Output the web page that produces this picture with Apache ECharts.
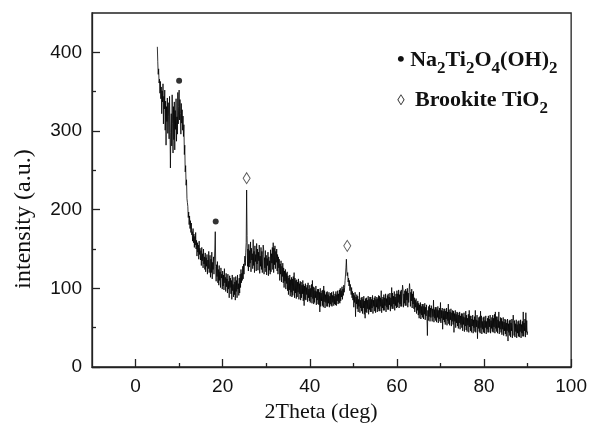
<!DOCTYPE html>
<html><head><meta charset="utf-8">
<script src="https://cdn.jsdelivr.net/npm/echarts@6/dist/echarts.min.js"></script>
<style>html,body{margin:0;padding:0;background:#fff}#c{width:590px;height:424px}</style>
</head><body><div id="c"></div>
<script>
// XRD pattern: intensity sampled every 0.1 deg; each array covers 10 deg starting at its segStart (one row = 1 deg)
const stepDeg = 0.1;
const segStarts = [5, 15, 25, 35, 45, 55, 65, 75, 85];
const int05 = [
 407, 388, 372, 379, 361, 366, 348, 363, 341, 356,
 322, 351, 337, 360, 309, 344, 328, 352, 301, 338,
 282, 331, 312, 342, 297, 336, 318, 290, 344, 305,
 253, 298, 322, 281, 346, 310, 272, 331, 289, 337,
 276, 326, 302, 341, 287, 318, 296, 349, 309, 331,
 352, 314, 340, 322, 296, 335, 310, 327, 301, 319,
 293, 308, 270, 282, 248, 256, 231, 238, 214, 209,
 204, 190, 197, 181, 192, 176, 186, 171, 183, 168,
 172, 160, 176, 158, 169, 152, 166, 155, 171, 150,
 161, 141, 158, 146, 155, 137, 160, 143, 151, 136];
const int15 = [
 148, 129, 152, 135, 144, 126, 150, 131, 140, 124,
 145, 121, 139, 128, 143, 118, 136, 125, 147, 120,
 131, 142, 114, 137, 120, 146, 112, 133, 124, 140,
 118, 136, 150, 172, 128, 109, 130, 115, 134, 107,
 124, 104, 129, 110, 121, 101, 126, 113, 118, 99,
 122, 103, 117, 98, 125, 107, 114, 96, 119, 102,
 112, 94, 118, 99, 109, 88, 116, 101, 113, 93,
 110, 86, 117, 97, 105, 89, 114, 92, 108, 85,
 115, 96, 110, 88, 117, 99, 106, 91, 113, 94,
 118, 101, 124, 107, 119, 110, 128, 112, 131, 118];
const int25 = [
 133, 141, 129, 146, 158, 225, 167, 128, 150, 122,
 156, 127, 148, 132, 159, 121, 151, 136, 144, 125,
 162, 129, 147, 120, 154, 134, 143, 122, 157, 131,
 150, 123, 146, 135, 155, 119, 141, 128, 152, 124,
 147, 120, 143, 155, 150, 118, 139, 126, 148, 121,
 142, 117, 138, 129, 146, 116, 140, 123, 135, 118,
 149, 121, 144, 132, 152, 124, 158, 120, 151, 130,
 154, 125, 147, 133, 150, 122, 143, 118, 140, 126,
 137, 110, 131, 118, 135, 108, 128, 115, 132, 107,
 126, 101, 122, 109, 124, 99, 119, 106, 121, 97];
const int35 = [
 116, 92, 113, 98, 117, 90, 111, 95, 114, 89,
 112, 91, 115, 97, 120, 88, 113, 94, 110, 87,
 111, 89, 108, 95, 112, 86, 106, 93, 109, 85,
 108, 88, 104, 93, 110, 84, 105, 78, 103, 86,
 106, 85, 101, 92, 104, 83, 107, 88, 99, 84,
 104, 82, 100, 89, 105, 81, 110, 87, 102, 80,
 101, 82, 97, 88, 103, 79, 96, 85, 99, 80,
 99, 79, 95, 70, 100, 77, 94, 84, 97, 78,
 98, 76, 103, 83, 97, 75, 92, 82, 95, 77,
 96, 77, 92, 81, 95, 76, 90, 80, 94, 78];
const int45 = [
 95, 77, 91, 82, 96, 78, 90, 80, 93, 79,
 96, 78, 92, 84, 97, 80, 93, 82, 98, 81,
 100, 84, 97, 89, 102, 86, 99, 91, 104, 95,
 101, 110, 117, 126, 137, 122, 116, 120, 108, 113,
 103, 110, 97, 105, 99, 92, 101, 88, 96, 85,
 94, 76, 91, 82, 95, 64, 89, 80, 92, 74,
 90, 70, 86, 77, 95, 69, 85, 75, 88, 71,
 89, 68, 86, 75, 90, 67, 84, 62, 87, 70,
 88, 69, 85, 74, 90, 67, 86, 73, 89, 70,
 89, 70, 86, 75, 91, 68, 85, 77, 88, 71];
const int55 = [
 90, 69, 86, 76, 89, 70, 87, 74, 91, 71,
 90, 71, 88, 77, 97, 69, 86, 75, 89, 72,
 92, 72, 88, 78, 93, 70, 87, 76, 91, 73,
 93, 73, 89, 79, 94, 71, 88, 77, 101, 74,
 94, 74, 90, 80, 96, 72, 89, 78, 93, 75,
 97, 76, 93, 82, 98, 75, 92, 80, 96, 77,
 98, 77, 94, 104, 99, 76, 93, 81, 97, 78,
 99, 78, 96, 85, 100, 76, 94, 82, 98, 106,
 98, 77, 95, 84, 99, 75, 93, 80, 96, 74,
 88, 70, 85, 76, 87, 68, 82, 72, 84, 66];
const int65 = [
 81, 62, 79, 68, 82, 61, 77, 66, 80, 63,
 80, 61, 77, 67, 81, 60, 76, 65, 79, 62,
 40, 72, 59, 77, 64, 79, 58, 75, 63, 78,
 77, 58, 74, 64, 85, 57, 73, 62, 76, 59,
 76, 57, 73, 63, 77, 56, 72, 61, 75, 58,
 82, 56, 72, 62, 75, 48, 71, 60, 74, 57,
 74, 54, 71, 61, 75, 53, 70, 59, 80, 55,
 73, 53, 70, 60, 74, 52, 69, 58, 72, 54,
 71, 44, 68, 58, 72, 50, 67, 56, 70, 52,
 69, 49, 66, 56, 70, 48, 65, 54, 68, 50];
const int75 = [
 68, 46, 64, 54, 69, 45, 63, 52, 71, 47,
 66, 45, 62, 53, 67, 44, 72, 51, 65, 46,
 65, 44, 61, 52, 66, 43, 60, 50, 64, 45,
 72, 44, 60, 51, 66, 36, 59, 49, 63, 45,
 64, 43, 71, 50, 65, 42, 58, 48, 63, 44,
 64, 43, 59, 50, 65, 42, 58, 48, 62, 44,
 65, 44, 61, 51, 66, 43, 59, 49, 63, 45,
 66, 44, 62, 51, 67, 43, 70, 49, 64, 45,
 64, 43, 60, 50, 70, 42, 58, 48, 63, 44,
 62, 41, 58, 48, 63, 40, 57, 46, 61, 42];
const int85 = [
 60, 39, 56, 46, 61, 33, 55, 44, 59, 40,
 60, 38, 56, 46, 61, 37, 55, 66, 59, 40,
 59, 38, 55, 45, 60, 37, 54, 43, 58, 39,
 59, 38, 55, 45, 60, 37, 54, 43, 58, 39,
 70, 39, 56, 46, 61, 38, 69, 44, 59, 41,
 45];
const segments = [int05, int15, int25, int35, int45, int55, int65, int75, int85];

// peak markers
const naTitanatePeaks = [[10.0, 364], [18.4, 185]];
const brookitePeaks = [[25.5, 240], [48.6, 154]];

// ticks
const xMajorTicks = [0, 20, 40, 60, 80, 100];
const xMinorTicks = [10, 30, 50, 70, 90];
const yMajorTicks = [0, 100, 200, 300, 400];
const yMinorTicks = [50, 150, 250, 350];

const pattern = [];
segments.forEach((seg, s) => {
  seg.forEach((v, j) => pattern.push([+(segStarts[s] + j * stepDeg).toFixed(1), v]));
});

const axisColor = '#222';
const tickFont = {color: '#111', fontFamily: 'Liberation Sans', fontSize: 19};
function mkAxis(extra) {
  const ax = Object.assign({type: 'value', splitLine: {show: false}}, extra);
  ax.axisLine = Object.assign({show: true, onZero: false, lineStyle: {color: axisColor, width: 1.3}}, extra.axisLine || {});
  return ax;
}

const chart = echarts.init(document.getElementById('c'), null, {renderer: 'canvas'});
chart.setOption({
  animation: false,
  backgroundColor: '#fff',
  grid: {left: 92, right: 17, top: 13, bottom: 57, show: true, borderColor: axisColor, borderWidth: 1.3, backgroundColor: 'transparent'},
  xAxis: [
    mkAxis({min: -10, max: 100, position: 'bottom',
      axisTick: {inside: true, length: 8, customValues: xMajorTicks, lineStyle: {color: axisColor, width: 1.3}},
      axisLabel: Object.assign({customValues: xMajorTicks, margin: 10}, tickFont)}),
    mkAxis({min: -10, max: 100, position: 'bottom', axisLine: {show: false},
      axisTick: {inside: true, length: 4, customValues: xMinorTicks, lineStyle: {color: axisColor, width: 1.3}},
      axisLabel: {show: false}})
  ],
  yAxis: [
    mkAxis({min: 0, max: 450, position: 'left',
      axisTick: {inside: true, length: 8, customValues: yMajorTicks, lineStyle: {color: axisColor, width: 1.3}},
      axisLabel: Object.assign({customValues: yMajorTicks, margin: 10}, tickFont)}),
    mkAxis({min: 0, max: 450, position: 'left', axisLine: {show: false},
      axisTick: {inside: true, length: 4, customValues: yMinorTicks, lineStyle: {color: axisColor, width: 1.3}},
      axisLabel: {show: false}})
  ],
  series: [
    {type: 'line', data: pattern, symbol: 'none', showSymbol: false, sampling: null,
      lineStyle: {color: '#000', width: 0.8}, z: 2},
    {type: 'scatter', data: naTitanatePeaks, symbol: 'circle', symbolSize: 6,
      itemStyle: {color: '#000'}, z: 3},
    {type: 'scatter', data: brookitePeaks, symbol: 'diamond', symbolSize: [7, 11],
      itemStyle: {color: '#fff', borderColor: '#333', borderWidth: 1}, z: 3}
  ],
  graphic: [
    {type: 'text', x: 321, y: 412, style: {text: '2Theta (deg)', fill: '#111', font: '22px "Liberation Serif"', align: 'center', verticalAlign: 'middle'}},
    {type: 'text', x: 24, y: 219, rotation: Math.PI / 2, style: {text: 'intensity (a.u.)', fill: '#111', font: '24px "Liberation Serif"', align: 'center', verticalAlign: 'middle'}},
    {type: 'text', x: 397, y: 60, style: {
      text: '{b|• Na}{s|2}{b|Ti}{s|2}{b|O}{s|4}{b|(OH)}{s|2}', align: 'left', verticalAlign: 'middle',
      rich: {
        b: {fontFamily: 'Liberation Serif', fontWeight: 'bold', fontSize: 22, fill: '#111'},
        s: {fontFamily: 'Liberation Serif', fontWeight: 'bold', fontSize: 17, fill: '#111', padding: [18, 0, 0, 0]}
      }}},
    {type: 'text', x: 401, y: 101, style: {text: '◊', fill: '#333', font: '15px "Liberation Serif"', align: 'center', verticalAlign: 'middle'}},
    {type: 'text', x: 415, y: 100, style: {
      text: '{b|Brookite TiO}{s|2}', align: 'left', verticalAlign: 'middle',
      rich: {
        b: {fontFamily: 'Liberation Serif', fontWeight: 'bold', fontSize: 22, fill: '#111'},
        s: {fontFamily: 'Liberation Serif', fontWeight: 'bold', fontSize: 17, fill: '#111', padding: [18, 0, 0, 0]}
      }}}
  ]
});
</script></body></html>
